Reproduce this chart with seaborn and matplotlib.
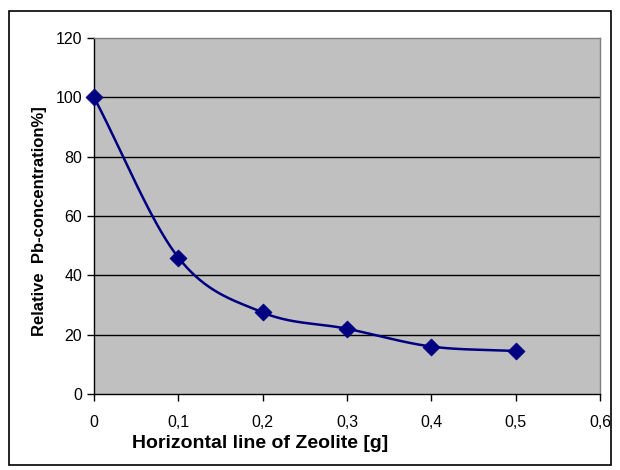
import numpy as np
import pandas as pd
import matplotlib
matplotlib.use("Agg")
import matplotlib.pyplot as plt
import seaborn as sns
from matplotlib.patches import Rectangle

zeolite_g = [0.0, 0.1, 0.2, 0.3, 0.4, 0.5]
rel_pb = [100, 46, 27.5, 22, 16, 14.5]
x_ticks = [0, 0.1, 0.2, 0.3, 0.4, 0.5, 0.6]
x_tick_labels = ["0", "0,1", "0,2", "0,3", "0,4", "0,5", "0,6"]
y_ticks = [0, 20, 40, 60, 80, 100, 120]

sns.set_theme(style="white")
plt.rcParams['font.family'] = ['Liberation Sans', 'DejaVu Sans']

def smooth(xs, ys, n=40):
    # Bezier smoothing like Excel's smoothed line
    xs = np.asarray(xs, float); ys = np.asarray(ys, float)
    px = np.concatenate([[2*xs[0]-xs[1]], xs, [2*xs[-1]-xs[-2]]])
    py = np.concatenate([[2*ys[0]-ys[1]], ys, [2*ys[-1]-ys[-2]]])
    outx, outy = [], []
    for i in range(1, len(px) - 2):
        p0 = np.array([px[i-1], py[i-1]]); p1 = np.array([px[i], py[i]])
        p2 = np.array([px[i+1], py[i+1]]); p3 = np.array([px[i+2], py[i+2]])
        c1 = p1 + (p2 - p0) / 6.0
        c2 = p2 - (p3 - p1) / 6.0
        t = np.linspace(0, 1, n)[:, None]
        pts = ((1-t)**3)*p1 + 3*((1-t)**2)*t*c1 + 3*(1-t)*t**2*c2 + t**3*p2
        outx.extend(pts[:, 0]); outy.extend(pts[:, 1])
    return np.array(outx), np.array(outy)

df = pd.DataFrame({"x": zeolite_g, "y": rel_pb})
sx, sy = smooth(zeolite_g, rel_pb)
sdf = pd.DataFrame({"x": sx, "y": sy})

fig = plt.figure(figsize=(6.2, 4.7), dpi=100)
ax = fig.add_axes([94/620, 1-394/470, (600-94)/620, (394-38)/470])
ax.set_facecolor("#c0c0c0")

for yv in y_ticks[1:-1]:
    ax.axhline(yv, color="black", lw=1.0, zorder=1)

sns.lineplot(data=sdf, x="x", y="y", ax=ax, color="#000080", lw=1.8,
             sort=False, estimator=None, zorder=3)
sns.scatterplot(data=df, x="x", y="y", ax=ax, color="#000080", marker="D",
                s=75, edgecolor="#000080", linewidth=0.5, zorder=4,
                clip_on=False)

ax.set_xlim(0, 0.6)
ax.set_ylim(0, 120)
ax.set_xticks(x_ticks)
ax.set_xticklabels(x_tick_labels)
ax.set_yticks(y_ticks)
ax.set_xlabel("")
ax.set_ylabel("")
ax.tick_params(axis="both", which="major", direction="out", length=5, width=1,
               color="black", labelsize=11.5, labelcolor="black",
               left=True, bottom=True)
ax.tick_params(axis="y", pad=3.5)
ax.tick_params(axis="x", pad=10)
for s in ["left", "bottom"]:
    ax.spines[s].set_color("black"); ax.spines[s].set_linewidth(1.0)
for s in ["top", "right"]:
    ax.spines[s].set_color("#808080"); ax.spines[s].set_linewidth(1.0)

fig.text(260/620, 1-444/470, "Horizontal line of Zeolite [g]", ha="center", va="center",
         fontsize=14, fontweight="bold", color="black")
fig.text(40/620, 1-221/470, "Relative  Pb-concentration%]", ha="center", va="center",
         rotation=90, fontsize=12, fontweight="bold", color="black")

fig.patches.append(Rectangle((9/620, 1-465/470), (611-9)/620, (465-11)/470,
                             transform=fig.transFigure, fill=False,
                             edgecolor="black", lw=1.2))

fig.savefig("out.png", dpi=100)
